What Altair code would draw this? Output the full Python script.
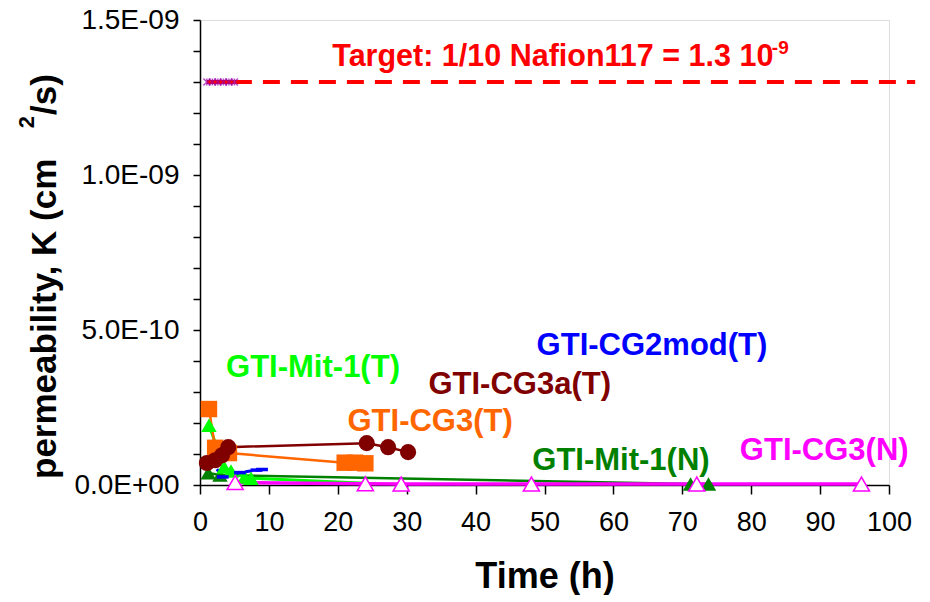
import altair as alt
import pandas as pd

# ---------------- data ----------------
cg3t_t = [1.3, 2.2, 3.2, 4.2, 21.0, 22.5, 24.0]
cg3t_k = [2.45e-10, 1.20e-10, 1.10e-10, 1.03e-10, 0.72e-10, 0.72e-10, 0.70e-10]

cg3a_t = [1.0, 2.2, 3.2, 4.1, 24.2, 27.3, 30.2]
cg3a_k = [0.71e-10, 0.80e-10, 0.96e-10, 1.22e-10, 1.35e-10, 1.22e-10, 1.06e-10]

mitT_t = [1.3, 3.5, 4.5, 6.5, 7.4, 24.0]
mitT_k = [1.93e-10, 0.58e-10, 0.45e-10, 0.26e-10, 0.22e-10, 0.06e-10]

cg2_t = [1.5, 3.3, 5.8, 8.2, 9.0]
cg2_k = [0.80e-10, 0.26e-10, 0.40e-10, 0.48e-10, 0.50e-10]

mitN_t = [1.2, 2.9, 71.2, 73.8]
mitN_k = [0.39e-10, 0.32e-10, 0.03e-10, 0.03e-10]

cg3N_t = [5.1, 24.0, 29.2, 48.1, 72.1, 96.0]
cg3N_k = [0.08e-10, 0.04e-10, 0.03e-10, 0.03e-10, 0.03e-10, 0.03e-10]

ref_t = [1.0, 1.8, 2.6, 3.4, 4.2, 5.0]
ref_k = [1.3e-9, 1.3e-9, 1.3e-9, 1.3e-9, 1.3e-9, 1.3e-9]

target_value = 1.3e-9
target_start = 1.0
target_end = 103.8

label_text = ["GTI-Mit-1(T)", "GTI-CG3a(T)", "GTI-CG3(T)", "GTI-CG2mod(T)", "GTI-Mit-1(N)", "GTI-CG3(N)"]
label_t = [16.4, 46.4, 33.4, 65.6, 61.1, 90.6]
label_k = [3.76e-10, 3.21e-10, 2.02e-10, 4.50e-10, 0.77e-10, 1.09e-10]
label_color = ["#00FF00", "#800000", "#FF6600", "#0000FF", "#008000", "#FF00FF"]

target_text = ["Target: 1/10 Nafion117 = 1.3 10", "-9"]
target_text_t = [19.2, 83.0]
target_text_k = [13.52e-10, 13.90e-10]
target_text_size = [30.5, 19]

x_ticks = list(range(0, 101, 10))
y_tick_values = [i * 1e-10 for i in range(16)]
y_major = {0: "0.0E+00", 5: "5.0E-10", 10: "1.0E-09", 15: "1.5E-09"}

FONT = "Liberation Sans"

# ---------------- scales / axes ----------------
label_expr = " : ".join(
    f"abs(datum.value - {i}e-10) < 1e-12 ? '{s}'" for i, s in y_major.items()
) + " : ''"

xs = alt.Scale(domain=[0, 100], nice=False)
ys = alt.Scale(domain=[0, 1.5e-9], nice=False)

x_axis = alt.Axis(values=x_ticks, grid=False, labelFontSize=27, labelFont=FONT,
                  labelColor="black", tickSize=9, tickWidth=1.5, tickColor="black",
                  domainColor="black", domainWidth=1.5, labelPadding=15, labelFlush=False,
                  titleFontSize=36, titleFont=FONT, titleFontWeight="bold",
                  titleColor="black", titlePadding=24)
y_axis = alt.Axis(values=y_tick_values, labelExpr=label_expr, grid=False,
                  labelFontSize=28, labelFont=FONT, labelColor="black",
                  tickSize=7, tickWidth=1.5, tickColor="black", domainColor="black",
                  domainWidth=1.5, labelPadding=14, labelOverlap=False)

X = alt.X("t:Q", scale=xs, axis=x_axis, title="Time (h)")
Y = alt.Y("k:Q", scale=ys, axis=y_axis, title=None)


def df(t, k):
    return pd.DataFrame({"t": t, "k": k})


layers = []

# target dashed line
tgt = pd.DataFrame({"t": [target_start], "t2": [target_end], "k": [target_value]})
layers.append(alt.Chart(tgt).mark_rule(color="#FF0000", strokeWidth=4, strokeDash=[17, 11]).encode(
    x=X, x2="t2:Q", y=Y))

# purple asterisks on target
layers.append(alt.Chart(df(ref_t, ref_k)).mark_line(color="#FF0000", strokeWidth=4).encode(x=X, y=Y))
layers.append(alt.Chart(df(ref_t, ref_k)).mark_point(
    shape="M-1,-1L1,1M-1,1L1,-1M0,-1L0,1", size=50, filled=False, stroke="#9900AA",
    strokeWidth=1.5).encode(x=X, y=Y))

# dark green (N)
layers.append(alt.Chart(df(mitN_t, mitN_k)).mark_line(color="#008000", strokeWidth=2.5).encode(x=X, y=Y))
# bright green (T)
layers.append(alt.Chart(df(mitT_t, mitT_k)).mark_line(color="#00FF00", strokeWidth=3).encode(x=X, y=Y))
# magenta (N)
layers.append(alt.Chart(df(cg3N_t, cg3N_k)).mark_line(color="#FF00FF", strokeWidth=3.5).encode(x=X, y=Y))
# blue dashed
layers.append(alt.Chart(df(cg2_t, cg2_k)).mark_line(color="#0000FF", strokeWidth=3, strokeDash=[7, 4]).encode(x=X, y=Y))
# orange
layers.append(alt.Chart(df(cg3t_t, cg3t_k)).mark_line(color="#FF6600", strokeWidth=2.5).encode(x=X, y=Y))
# dark red
layers.append(alt.Chart(df(cg3a_t, cg3a_k)).mark_line(color="#800000", strokeWidth=2.5).encode(x=X, y=Y))

# markers
layers.append(alt.Chart(df(mitN_t, mitN_k)).mark_point(shape="triangle-up", filled=True, color="#008000", size=240, opacity=1).encode(x=X, y=Y))
layers.append(alt.Chart(df(mitT_t, mitT_k)).mark_point(shape="triangle-up", filled=True, color="#00FF00", size=240, opacity=1).encode(x=X, y=Y))
layers.append(alt.Chart(df(cg3N_t, cg3N_k)).mark_point(shape="triangle-up", filled=True, fill="white", stroke="#FF00FF", strokeWidth=1.5, size=260, opacity=1).encode(x=X, y=Y))
layers.append(alt.Chart(df(cg2_t, cg2_k)).mark_point(shape="stroke", filled=False, stroke="#0000FF", strokeWidth=3.5, size=140, opacity=1).encode(x=X, y=Y))
layers.append(alt.Chart(df(cg3t_t, cg3t_k)).mark_point(shape="square", filled=True, color="#FF6600", size=270, opacity=1).encode(x=X, y=Y))
layers.append(alt.Chart(df(cg3a_t, cg3a_k)).mark_point(shape="circle", filled=True, color="#800000", size=260, opacity=1).encode(x=X, y=Y))

# series labels
lab = pd.DataFrame({"t": label_t, "k": label_k, "txt": label_text, "c": label_color})
layers.append(alt.Chart(lab).mark_text(font=FONT, fontSize=31, fontWeight="bold", align="center",
                                       baseline="middle").encode(
    x=X, y=Y, text="txt:N", color=alt.Color("c:N", scale=None)))

# target label
tl = pd.DataFrame({"t": target_text_t, "k": target_text_k, "txt": target_text, "s": target_text_size})
layers.append(alt.Chart(tl).mark_text(font=FONT, fontWeight="bold", align="left",
                                      baseline="alphabetic", color="#FF0000").encode(
    x=X, y=Y, text="txt:N", size=alt.Size("s:Q", scale=None)))

# y-axis title (with superscript)
ytitle = pd.DataFrame({"txt": ["permeability, K (cm", "2", "/s)"],
                       "px": [-155, -173, -155], "py": [459, 102, 95], "s": [35, 22, 35]})
for i in range(3):
    row = ytitle.iloc[[i]]
    layers.append(alt.Chart(row).mark_text(font=FONT, fontWeight="bold", angle=270,
                                           align="center" if i == 1 else "left",
                                           baseline="middle", color="black",
                                           fontSize=int(row["s"].iloc[0])).encode(
        x=alt.value(float(row["px"].iloc[0])), y=alt.value(float(row["py"].iloc[0])),
        text="txt:N"))

chart = alt.layer(*layers).properties(
    width=689, height=465,
    autosize=alt.AutoSizeParams(type="none"),
    padding={"left": 192, "top": 12, "right": 30, "bottom": 110},
).configure_view(stroke="black", strokeWidth=1.5).configure(background="white")

chart.save("out.html", embed_options={"renderer": "svg", "actions": False})
